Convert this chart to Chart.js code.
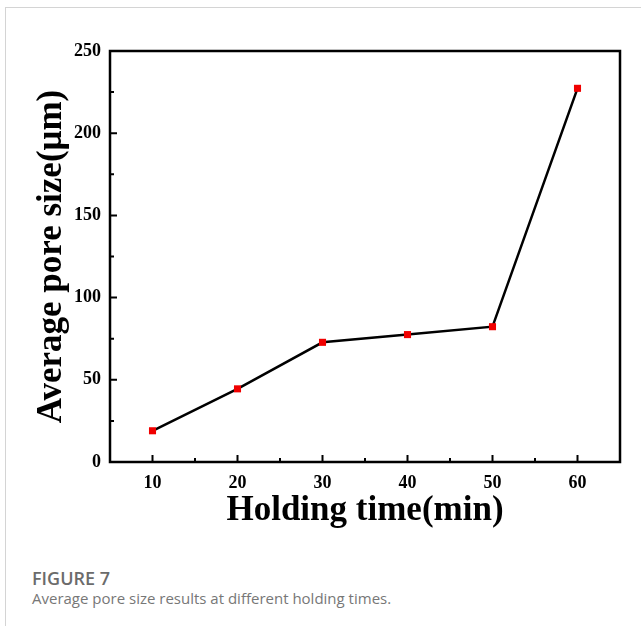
<!DOCTYPE html>
<html>
<head>
<meta charset="utf-8">
<script src="https://cdn.jsdelivr.net/npm/chart.js@4.4.1/dist/chart.umd.min.js"></script>
<style>
  html, body { margin: 0; padding: 0; background: #fff; }
  body { width: 641px; height: 626px; position: relative; overflow: hidden; }
  .frame {
    position: absolute; left: 5px; top: 7px; right: -2px; bottom: -2px;
    border-top: 1px solid #d4d4d4; border-left: 1px solid #d4d4d4;
  }
  .chart-box { position: absolute; left: 0; top: 0; width: 641px; height: 540px; }
  .caption { position: absolute; left: 32px; font-family: "Open Sans", "Noto Sans", sans-serif; }
  .cap-title { top: 566px; font-size: 18px; font-weight: 600; color: #6b6b6b; }
  .cap-text { top: 588px; font-size: 15px; color: #777; }
</style>
</head>
<body>
<div class="frame"></div>
<div class="chart-box"><canvas id="chart" width="641" height="540"></canvas></div>
<div class="caption cap-title">FIGURE 7</div>
<div class="caption cap-text">Average pore size results at different holding times.</div>
<script>
const holdingTimes = [10, 20, 30, 40, 50, 60];
const poreSizes = [19, 44.5, 72.8, 77.5, 82.3, 227.3];
const xTickValues = [10, 20, 30, 40, 50, 60];
const yTickValues = [0, 50, 100, 150, 200, 250];

const SERIF = "'Liberation Serif', 'Times New Roman', serif";

// frame + inward major/minor ticks like the Origin plot
const frameTicks = {
  id: "frameTicks",
  afterDraw(chart) {
    const { ctx, chartArea: a } = chart;
    const xs = chart.scales.x, ys = chart.scales.y;
    ctx.save();
    ctx.strokeStyle = "#000";
    ctx.lineWidth = 2;
    ctx.beginPath();
    xTickValues.forEach((v, i) => {
      const px = xs.getPixelForValue(v);
      ctx.moveTo(px, a.bottom); ctx.lineTo(px, a.bottom - 7);
      if (i < xTickValues.length - 1) {
        const mx = xs.getPixelForValue((v + xTickValues[i + 1]) / 2);
        ctx.moveTo(mx, a.bottom); ctx.lineTo(mx, a.bottom - 4);
      }
    });
    yTickValues.forEach((v, i) => {
      const py = ys.getPixelForValue(v);
      ctx.moveTo(a.left, py); ctx.lineTo(a.left + 7, py);
      if (i < yTickValues.length - 1) {
        const my = ys.getPixelForValue((v + yTickValues[i + 1]) / 2);
        ctx.moveTo(a.left, my); ctx.lineTo(a.left + 4, my);
      }
    });
    ctx.stroke();
    ctx.lineWidth = 2.5;
    ctx.strokeRect(a.left, a.top, a.right - a.left, a.bottom - a.top);
    ctx.restore();
  },
};

new Chart(document.getElementById("chart"), {
  type: "scatter",
  data: {
    datasets: [{
      data: holdingTimes.map((t, i) => ({ x: t, y: poreSizes[i] })),
      showLine: true,
      borderColor: "#000",
      borderWidth: 2.5,
      pointStyle: "rect",
      pointRadius: 5,
      pointBorderWidth: 0,
      pointBackgroundColor: "#f00000",
      pointBorderColor: "#f00000",
    }],
  },
  options: {
    responsive: false,
    animation: false,
    layout: { padding: { top: 51, right: 21, left: 0, bottom: 0 } },
    plugins: { legend: { display: false }, tooltip: { enabled: false } },
    scales: {
      x: {
        type: "linear",
        min: 5,
        max: 65,
        afterBuildTicks: (s) => { s.ticks = xTickValues.map(v => ({ value: v })); },
        afterFit: (s) => { s.height = 78; },
        grid: { display: false, drawTicks: false },
        border: { display: false },
        ticks: { color: "#000", padding: 11, font: { family: SERIF, size: 18, weight: "bold" } },
        title: {
          display: true,
          text: "Holding time(min)",
          color: "#000",
          padding: { top: 0, bottom: 8 },
          font: { family: SERIF, size: 35, weight: "bold" },
        },
      },
      y: {
        min: 0,
        max: 250,
        afterBuildTicks: (s) => { s.ticks = yTickValues.map(v => ({ value: v })); },
        afterFit: (s) => { s.width = 110; },
        grid: { display: false, drawTicks: false },
        border: { display: false },
        ticks: { color: "#000", padding: 9, font: { family: SERIF, size: 18, weight: "bold" } },
        title: {
          display: true,
          text: "Average pore size(μm)",
          color: "#000",
          padding: { top: 31, bottom: 0 },
          font: { family: SERIF, size: 35, weight: "bold" },
        },
      },
    },
  },
  plugins: [frameTicks],
});
</script>
</body>
</html>
